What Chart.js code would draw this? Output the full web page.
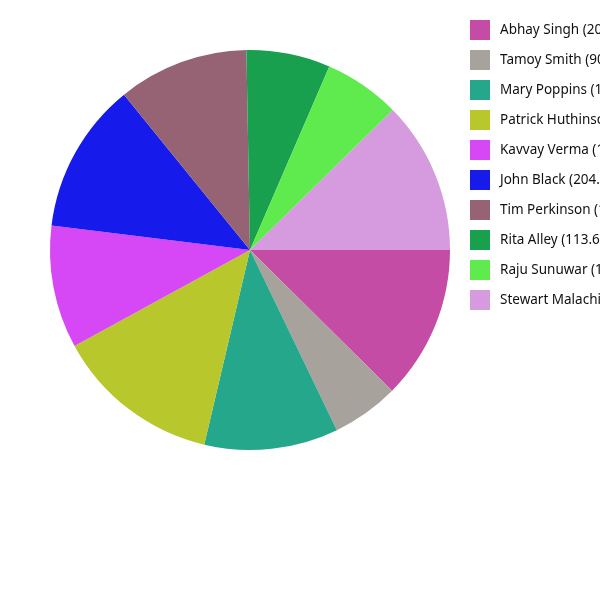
<!DOCTYPE html>
<html>
<head>
<meta charset="utf-8">
<script src="https://cdn.jsdelivr.net/npm/chart.js@4"></script>
<style>
html,body{margin:0;padding:0;background:#fff;}
#wrap{width:600px;height:600px;position:relative;}
</style>
</head>
<body>
<div id="wrap"><canvas id="c" width="600" height="600"></canvas></div>
<script>
const names = ["Abhay Singh","Tamoy Smith","Mary Poppins","Patrick Huthinson","Kavvay Verma","John Black","Tim Perkinson","Rita Alley","Raju Sunuwar","Stewart Malachi"];
const values = [208.2, 90.9, 181.5, 224.0, 166.3, 204.3, 177.0, 113.6, 103.4, 206.8];
const colors = ["#C54CA5","#A7A29C","#25A78B","#B8C72B","#D647F5","#161BEB","#956373","#18A04E","#5FEB4D","#D69ADF"];
const labels = names.map((n,i)=> n + " (" + values[i].toFixed(2) + ")");

const legendPlugin = {
  id: 'sideLegend',
  afterDraw(chart){
    const ctx = chart.ctx;
    ctx.save();
    ctx.font = '13.5px "Noto Sans", "Open Sans", sans-serif';
    ctx.textBaseline = 'middle';
    ctx.textAlign = 'left';
    chart.data.labels.forEach((lab,i)=>{
      const y = 20 + i*30;
      ctx.fillStyle = chart.data.datasets[0].backgroundColor[i];
      ctx.fillRect(470, y, 20, 20);
      ctx.fillStyle = '#111';
      ctx.fillText(lab, 500, y + 10);
    });
    ctx.restore();
  }
};

new Chart(document.getElementById('c'), {
  type: 'pie',
  data: {
    labels: labels,
    datasets: [{
      data: values,
      backgroundColor: colors,
      borderWidth: 0
    }]
  },
  options: {
    responsive: false,
    animation: false,
    rotation: 90,
    layout: { padding: { left: 50, top: 50, right: 150, bottom: 150 } },
    plugins: { legend: { display: false }, tooltip: { enabled: false } }
  },
  plugins: [legendPlugin]
});
</script>
</body>
</html>
